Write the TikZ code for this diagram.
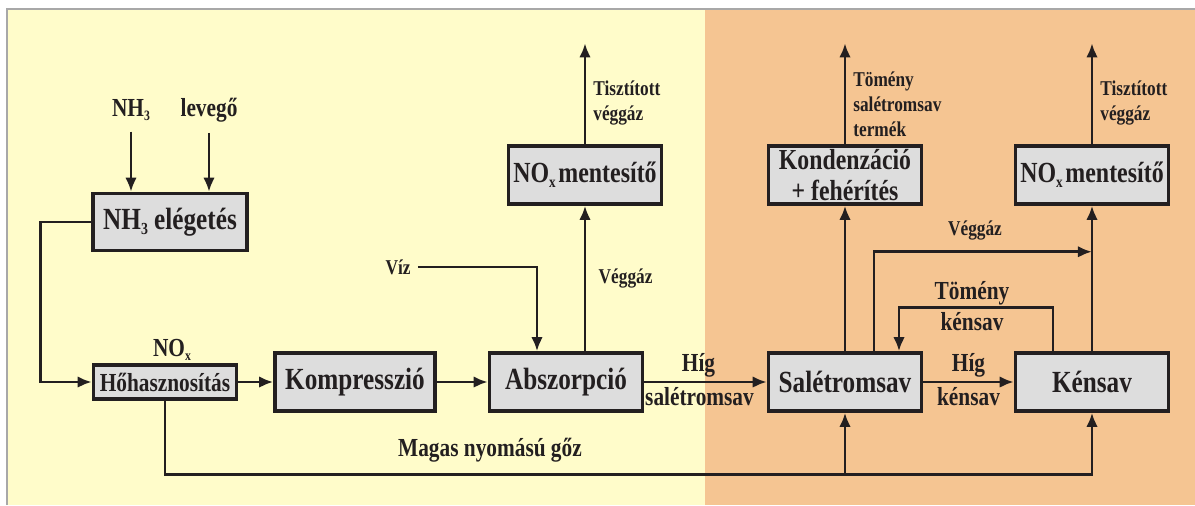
\documentclass[tikz,border=0pt]{standalone}
\usepackage{fontspec}
\setmainfont{Liberation Serif}[FakeStretch=0.82]
\usetikzlibrary{arrows.meta}
\usetikzlibrary{calc}
\usetikzlibrary{positioning}

\definecolor{ink}{HTML}{231F20}
\definecolor{paleyellow}{HTML}{FFFCCA}
\definecolor{paleorange}{HTML}{F5C592}
\definecolor{boxgray}{HTML}{DDDDDD}
\definecolor{framegray}{HTML}{A8A8A8}

\newcommand\lowidx[1]{\raisebox{-0.35ex}{\scalebox{0.55}{#1}}}

\begin{document}
\begin{tikzpicture}[
        x=0.02cm, y=-0.02cm,
        >={Latex[length=8pt, width=6.6pt]},
        unit/.style={draw=ink, fill=boxgray, line width=2pt, inner sep=0pt,
            minimum width=3.06cm, minimum height=1.16cm, text=ink,
            font=\bfseries\fontsize{17.5}{18}\selectfont},
        lbl/.style={text=ink, inner sep=0pt, align=center,
            font=\bfseries\fontsize{14.8}{15.5}\selectfont},
        tag/.style={text=ink, inner sep=0pt, align=left,
            font=\bfseries\fontsize{12}{14.2}\selectfont},
        flow/.style={draw=ink, line width=1.6pt, ->},
    ]

    \useasboundingbox (0,0) rectangle (1195,505);
    \fill[paleyellow] (7,9) rectangle (705,505);
    \fill[paleorange] (705,9) rectangle (1195,505);
    \draw[framegray, line width=0.6pt] (7,505) -- (7,9) -- (1195,9);

    % process units
    \node[unit, minimum width=3.08cm, minimum height=1.14cm] (burn) at (170,222) {NH\lowidx{3} elégetés};
    \node[unit, minimum width=2.86cm, minimum height=0.68cm,
          font=\bfseries\fontsize{14.8}{15}\selectfont] (heat) at (165,382) {Hőhasznosítás};
    \node[unit, minimum width=3.2cm] (comp) at (355,382) {Kompresszió};
    \node[unit] (absz) at (566,382) {Abszorpció};
    \node[unit, font=\bfseries\fontsize{16.6}{17}\selectfont] (denoxA) at (585,175) {NO\lowidx{x}\kern1.5pt mentesítő};
    \node[unit] (nitric) at (845,382) {Salétromsav};
    \node[unit] (sulf) at (1092,382) {Kénsav};
    \node[unit, align=center, font=\bfseries\fontsize{16.5}{17.5}\selectfont] (cond) at (845,175) {Kondenzáció\\+ fehérítés};
    \node[unit, font=\bfseries\fontsize{16.6}{17}\selectfont] (denoxB) at (1092,175) {NO\lowidx{x}\kern1.5pt mentesítő};

    % feeds
    \node[lbl] (nh3) at (131,110) {NH\lowidx{3}};
    \node[lbl] (air) at (209,110) {levegő};
    \node[lbl] (nox) at (172,350) {NO\lowidx{x}};
    \node[tag] (viz) at (398,267) {Víz};

    \draw[flow, shorten <=6pt] (nh3.south) -- (nh3.south |- burn.north);
    \draw[flow, shorten <=6pt] (air.south) -- (air.south |- burn.north);
    \draw[flow] (burn.west) -- ++(-51,0) |- (heat.west);
    \draw[flow] (heat) -- (comp);
    \draw[flow] (comp) -- (absz);
    \draw[flow, shorten <=4pt] (viz.east) -| ($(absz.north)+(-29,0)$);

    % absorption
    \draw[flow] (absz.north -| denoxA.south) -- (denoxA.south)
        node[tag, midway, right=7pt] {Véggáz};
    \draw[flow] (denoxA.north) -- ++(0,-101);
    \node[tag, anchor=west] (cleanA) at (593,103) {Tisztított\\véggáz};
    \draw[flow] (absz) -- (nitric)
        node[lbl, midway, above=2pt, xshift=-0.14cm] {Híg}
        node[lbl, midway, below=2pt, xshift=-0.12cm] {salétromsav};

    % nitric / sulfuric section
    \draw[flow] (nitric) -- (sulf)
        node[lbl, midway, above=2pt] {Híg}
        node[lbl, midway, below=2pt] {kénsav};
    \draw[flow] (nitric.north) -- (cond.south);
    \draw[flow] (cond.north) -- ++(0,-101);
    \node[tag, anchor=west] (product) at (853,104) {Tömény\\salétromsav\\termék};
    \draw[flow] ($(nitric.north)+(29,0)$) |- ($(denoxB.south)+(0,46)$)
        node[tag, pos=0.75, above=6pt, xshift=-0.16cm] {Véggáz};
    \draw[flow] (sulf.north) -- (denoxB.south);
    \draw[flow] (denoxB.north) -- ++(0,-101);
    \node[tag, anchor=west] (cleanB) at (1100,103) {Tisztított\\véggáz};
    \draw[flow] ($(sulf.north)+(-39,0)$) |- ($(nitric.north)+(54,-44)$) -- ($(nitric.north)+(54,0)$);
    \node[lbl] (conc) at (972,293) {Tömény};
    \node[lbl] (concb) at (972,322) {kénsav};

    % high pressure steam
    \draw[flow] (heat.south) -- ++(0,74) -| (sulf.south);
    \draw[flow] ($(nitric.south)+(0,62)$) -- (nitric.south);
    \node[lbl] (steam) at (490,450) {Magas nyomású gőz};

\end{tikzpicture}
\end{document}
